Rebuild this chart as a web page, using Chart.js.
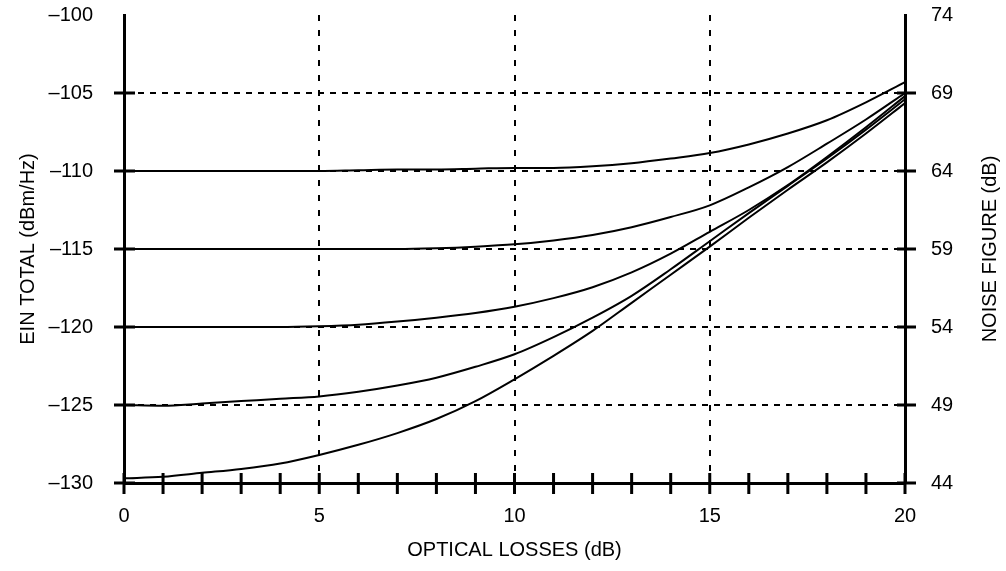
<!DOCTYPE html>
<html>
<head>
<meta charset="utf-8">
<script src="https://cdn.jsdelivr.net/npm/chart.js@4/dist/chart.umd.min.js"></script>
<style>
    html, body { margin: 0; padding: 0; background: #fff; }
    #wrap { width: 1006px; height: 571px; }
</style>
</head>
<body>
<div id="wrap"><canvas id="mainChart"></canvas></div>
<script>
// Optical losses (dB) along the x axis
const losses = [0, 1, 2, 3, 4, 5, 6, 7, 8, 9, 10, 11, 12, 13, 14, 15, 16, 17, 18, 19, 20];

// EIN total (dBm/Hz), one curve per starting level
const ein110 = [-110, -110, -110, -110, -110, -110, -109.95, -109.9, -109.9, -109.85, -109.8, -109.8, -109.7, -109.5, -109.2, -108.85, -108.3, -107.6, -106.75, -105.6, -104.3];
const ein115 = [-115, -115, -115, -115, -115, -115, -115, -115, -114.95, -114.85, -114.7, -114.45, -114.1, -113.6, -112.95, -112.2, -111.05, -109.75, -108.25, -106.7, -105.0];
const ein120 = [-120, -120, -120, -120, -120, -119.95, -119.85, -119.65, -119.4, -119.1, -118.7, -118.15, -117.45, -116.5, -115.3, -113.9, -112.5, -110.9, -109.1, -107.2, -105.2];
const ein125 = [-125, -125.05, -124.9, -124.75, -124.6, -124.45, -124.15, -123.75, -123.25, -122.55, -121.75, -120.65, -119.4, -118.0, -116.3, -114.5, -112.7, -110.95, -109.2, -107.35, -105.4];
const ein130 = [-129.7, -129.6, -129.35, -129.1, -128.75, -128.2, -127.55, -126.8, -125.9, -124.75, -123.35, -121.85, -120.25, -118.45, -116.65, -114.85, -113.0, -111.2, -109.45, -107.6, -105.65];

// Axis ranges / labels
const einMin = -130, einMax = -100;
const nfMin = 44, nfMax = 74;
const xTitle = 'OPTICAL LOSSES (dB)';
const leftTitle = 'EIN TOTAL (dBm/Hz)';
const rightTitle = 'NOISE FIGURE (dB)';

const FONT = 'Liberation Sans, Arial, sans-serif';
const FS = 20;

function toPoints(ys) {
    return losses.map((x, i) => ({ x: x, y: ys[i] }));
}

function curve(ys) {
    return {
        data: toPoints(ys),
        borderColor: '#000',
        borderWidth: 2,
        pointRadius: 0,
        fill: false,
        cubicInterpolationMode: 'monotone',
        yAxisID: 'y'
    };
}

// tick marks that cross the axis lines (in and out)
const crossTicks = {
    id: 'crossTicks',
    afterDraw(chart) {
        const ctx = chart.ctx;
        const { x, y, y2 } = chart.scales;
        const area = chart.chartArea;
        ctx.save();
        ctx.strokeStyle = '#000';
        ctx.lineWidth = 3;
        ctx.beginPath();
        for (let v = 0; v <= 20; v++) {
            const px = x.getPixelForValue(v);
            ctx.moveTo(px, area.bottom - 10);
            ctx.lineTo(px, area.bottom + 11);
        }
        for (let v = einMin; v < einMax; v += 5) {
            const py = y.getPixelForValue(v);
            ctx.moveTo(area.left - 10, py);
            ctx.lineTo(area.left + 11, py);
        }
        for (let v = nfMin; v < nfMax; v += 5) {
            const py = y2.getPixelForValue(v);
            ctx.moveTo(area.right - 8, py);
            ctx.lineTo(area.right + 11, py);
        }
        ctx.stroke();

        // right axis title reads bottom-to-top like the left one
        ctx.fillStyle = '#000';
        ctx.font = FS + 'px ' + FONT;
        ctx.textAlign = 'center';
        ctx.textBaseline = 'middle';
        ctx.translate(990, (area.top + area.bottom) / 2);
        ctx.rotate(-Math.PI / 2);
        ctx.fillText(rightTitle, 0, 0);
        ctx.restore();
    }
};

const dashed = (isGrid) => (isGrid ? '#000' : 'rgba(0,0,0,0)');

// fixed box sizes so the plot area lands where the original has it
function fixVertical(width) {
    return (s) => {
        s.width = width;
        s.paddingTop = 0;
        s.paddingBottom = 0;
    };
}

new Chart(document.getElementById('mainChart'), {
    type: 'line',
    data: {
        datasets: [curve(ein110), curve(ein115), curve(ein120), curve(ein125), curve(ein130)]
    },
    options: {
        responsive: true,
        maintainAspectRatio: false,
        animation: false,
        layout: { padding: { top: 15, left: 0, right: 0, bottom: 0 } },
        plugins: {
            legend: { display: false },
            tooltip: { enabled: false }
        },
        scales: {
            x: {
                type: 'linear',
                min: 0,
                max: 20,
                afterFit: (s) => { s.height = 88; },
                border: { display: true, color: '#000', width: 3, dash: [6, 9] },
                grid: {
                    drawTicks: false,
                    lineWidth: 2,
                    color: (c) => dashed(c.tick && c.tick.value % 5 === 0 && c.tick.value > 0 && c.tick.value < 20)
                },
                ticks: {
                    stepSize: 1,
                    autoSkip: false,
                    maxRotation: 0,
                    padding: 21,
                    color: '#000',
                    font: { family: FONT, size: FS },
                    callback: (v) => (v % 5 === 0 ? v : '')
                },
                title: {
                    display: true,
                    text: xTitle,
                    color: '#000',
                    font: { family: FONT, size: FS },
                    padding: { top: 0, bottom: 9 }
                }
            },
            y: {
                position: 'left',
                min: einMin,
                max: einMax,
                afterFit: fixVertical(124),
                border: { display: true, color: '#000', width: 3, dash: [6, 6] },
                grid: {
                    drawTicks: false,
                    lineWidth: 2,
                    color: (c) => dashed(c.tick && c.tick.value > einMin && c.tick.value < einMax)
                },
                ticks: {
                    stepSize: 5,
                    padding: 31,
                    color: '#000',
                    font: { family: FONT, size: FS },
                    callback: (v) => (v < 0 ? '\u2013' + Math.abs(v) : v)
                },
                title: {
                    display: true,
                    text: leftTitle,
                    color: '#000',
                    font: { family: FONT, size: FS },
                    padding: { top: 16, bottom: 0 }
                }
            },
            y2: {
                position: 'right',
                min: nfMin,
                max: nfMax,
                afterFit: fixVertical(101),
                border: { display: true, color: '#000', width: 3 },
                grid: { drawTicks: false, drawOnChartArea: false },
                ticks: {
                    stepSize: 5,
                    padding: 26,
                    color: '#000',
                    font: { family: FONT, size: FS }
                }
            }
        }
    },
    plugins: [crossTicks]
});
</script>
</body>
</html>
